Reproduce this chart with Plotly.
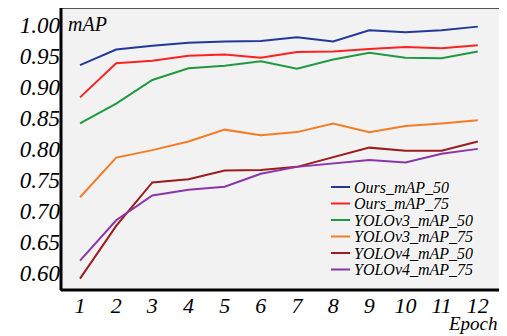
import plotly.graph_objects as go

epochs = list(range(1, 13))
ours_50 = [0.935, 0.960, 0.966, 0.971, 0.973, 0.974, 0.980, 0.973, 0.991, 0.988, 0.991, 0.997]
ours_75 = [0.883, 0.938, 0.942, 0.950, 0.952, 0.947, 0.956, 0.957, 0.961, 0.964, 0.962, 0.967]
v3_50 = [0.841, 0.873, 0.911, 0.930, 0.934, 0.941, 0.929, 0.944, 0.955, 0.947, 0.946, 0.957]
v3_75 = [0.722, 0.786, 0.798, 0.812, 0.831, 0.822, 0.827, 0.841, 0.827, 0.837, 0.841, 0.846]
v4_50 = [0.591, 0.676, 0.746, 0.751, 0.765, 0.766, 0.771, 0.787, 0.802, 0.797, 0.797, 0.812]
v4_75 = [0.620, 0.685, 0.725, 0.734, 0.739, 0.760, 0.771, 0.777, 0.782, 0.778, 0.792, 0.800]

series = [
    ("Ours_mAP_50", ours_50, "#22399a"),
    ("Ours_mAP_75", ours_75, "#fb2222"),
    ("YOLOv3_mAP_50", v3_50, "#1f9a42"),
    ("YOLOv3_mAP_75", v3_75, "#f47c24"),
    ("YOLOv4_mAP_50", v4_50, "#9a1c1e"),
    ("YOLOv4_mAP_75", v4_75, "#8b36a6"),
]
yticks = [0.60, 0.65, 0.70, 0.75, 0.80, 0.85, 0.90, 0.95, 1.00]

serif = "Times New Roman, Liberation Serif, serif"
OFF = 8  # page body margin
W, H = 499, 328
ml, mr, mt, mb = 53, 5, 0, 46
pw, ph = W - ml - mr, H - mt - mb

def px(x):
    return (x - OFF - ml) / pw

def py(y):
    return 1 - (y - OFF - mt) / ph

fig = go.Figure()
for name, vals, col in series:
    fig.add_trace(go.Scatter(x=epochs, y=vals, mode="lines", name=name,
                             line=dict(color=col, width=2), showlegend=False))

fig.update_layout(
    width=W, height=H,
    margin=dict(l=ml, r=mr, t=mt, b=mb, pad=0),
    paper_bgcolor="white",
    plot_bgcolor="#f2f2f2",
    showlegend=False,
    xaxis=dict(range=[0.474, 12.67], tickvals=epochs, showgrid=False, zeroline=False,
               ticks="", showline=False, automargin=False,
               tickfont=dict(family=serif, size=22, style="italic", color="black")),
    yaxis=dict(range=[0.5726, 1.027], tickvals=yticks, ticktext=[f"{v:.2f}" for v in yticks],
               showgrid=False, zeroline=False, ticks="", showline=False, automargin=False,
               tickfont=dict(family=serif, size=23, style="italic", color="black")),
)
fig.add_shape(type="rect", xref="paper", yref="paper", x0=0, x1=1, y0=0, y1=py(8),
              line=dict(color="#555555", width=2), layer="above")
fig.add_shape(type="line", xref="paper", yref="paper", x0=0, x1=0, y0=0, y1=py(8),
              line=dict(color="black", width=3), layer="above")
fig.add_shape(type="line", xref="paper", yref="paper", x0=0, x1=1, y0=0, y1=0,
              line=dict(color="black", width=3), layer="above")

# manual legend
row_y = [187, 203.5, 220, 236.5, 253, 269.5]
for (name, vals, col), yy in zip(series, row_y):
    fig.add_shape(type="line", xref="paper", yref="paper", x0=px(331), x1=px(350),
                  y0=py(yy), y1=py(yy), line=dict(color=col, width=2), layer="above")
    fig.add_annotation(text=name, xref="paper", yref="paper", x=px(352), y=py(yy),
                       xanchor="left", yanchor="middle", showarrow=False,
                       font=dict(family=serif, size=16, style="italic", color="black",
                                 shadow="1px 1px 1px white, -1px -1px 1px white"))

fig.add_annotation(text="mAP", xref="paper", yref="paper", x=px(66), y=py(11),
                   xanchor="left", yanchor="top", showarrow=False,
                   font=dict(family=serif, size=20, style="italic", color="black"))
fig.add_annotation(text="Epoch", xref="paper", yref="paper", x=px(500), y=py(311),
                   xanchor="right", yanchor="top", showarrow=False,
                   font=dict(family=serif, size=19, style="italic", color="black"))

fig.write_html("out.html")
